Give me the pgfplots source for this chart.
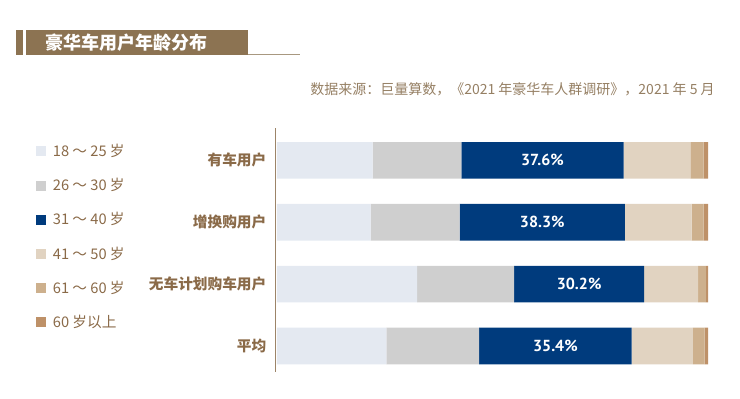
\documentclass[border=0pt]{standalone}
\usepackage{fontspec}
\setmainfont{Noto Sans CJK SC}
\newfontfamily\numfont{PT Sans}
\usepackage{pgfplots}
\pgfplotsset{compat=1.18}
\definecolor{cA}{HTML}{E4E9F1}
\definecolor{cB}{HTML}{CFCFCF}
\definecolor{cC}{HTML}{003B7D}
\definecolor{cD}{HTML}{E1D3C1}
\definecolor{cE}{HTML}{CDB08D}
\definecolor{cF}{HTML}{BE9168}
\definecolor{titlebrown}{HTML}{8C7352}
\definecolor{linebrown}{HTML}{A89880}
\definecolor{srccolor}{HTML}{957F63}
\definecolor{labelcolor}{HTML}{8A6A48}
\definecolor{axiscolor}{HTML}{9C8468}
\begin{document}
\begin{tikzpicture}[x=0.75pt,y=0.75pt]
\path[use as bounding box] (0,0) rectangle (740,399);
% title block
\fill[titlebrown] (16,369) rectangle (23,344);
\fill[titlebrown] (26,369) rectangle (248,344);
\draw[linebrown, line width=0.8pt] (248,344.6) -- (300,344.6);
\node[inner sep=0pt, anchor=west, text=white, font=\fontsize{13.5pt}{14pt}\selectfont\bfseries] at (45,356.5) {豪华车用户年龄分布};
% source
\node[inner sep=0pt, anchor=east, text=srccolor, font=\fontsize{10.5pt}{12pt}\selectfont] at (715,310) {数据来源：巨量算数，《2021 年豪华车人群调研》，2021 年 5 月};
\coordinate (axpos) at (275.9,27);
\begin{axis}[
  at={(axpos)}, anchor=south west,
  scale only axis, width=324.1pt, height=182.9pt,
  xmin=-0.25, xmax=100, ymin=-0.42, ymax=3.52,
  xbar stacked, bar width=27.45pt,
  axis x line=none, axis y line*=left,
  y axis line style={draw=axiscolor, line width=0.9pt, -},
  ytick={0,1,2,3},
  yticklabels={平均,无车计划购车用户,增换购用户,有车用户},
  major tick length=0pt,
  yticklabel style={inner sep=0pt, xshift=-7pt, text=labelcolor, font=\fontsize{11pt}{12pt}\selectfont\bfseries},
  legend style={at={(axis description cs:-0.5552,0.9348)}, anchor=north west, draw=none, fill=none,
    font=\fontsize{11pt}{12pt}\selectfont, text=labelcolor,
    row sep=14.8pt, column sep=5pt, inner sep=0pt,
    nodes={inner sep=0pt}},
  legend cell align=left,
  legend image code/.code={\fill[#1] (0pt,-3.75pt) rectangle (7.5pt,3.75pt);},
]
\addplot[fill=cA, draw=none] coordinates {(25.4,0) (32.5,1) (21.7,2) (22.2,3)};
\addplot[fill=cB, draw=none] coordinates {(21.5,0) (22.5,1) (20.7,2) (20.6,3)};
\addplot[fill=cC, draw=none] coordinates {(35.4,0) (30.2,1) (38.3,2) (37.6,3)};
\addplot[fill=cD, draw=none] coordinates {(14.2,0) (12.5,1) (15.5,2) (15.5,3)};
\addplot[fill=cE, draw=none] coordinates {(2.7,0) (1.8,1) (2.8,2) (3.1,3)};
\addplot[fill=cF, draw=none] coordinates {(0.8,0) (0.5,1) (1.0,2) (1.0,3)};
\legend{18 ～ 25 岁, 26 ～ 30 岁, 31 ～ 40 岁, 41 ～ 50 岁, 61 ～ 60 岁, 60 岁以上}
\coordinate (l1) at (axis cs:61.6,3);
\coordinate (l2) at (axis cs:61.55,2);
\coordinate (l3) at (axis cs:70.1,1);
\coordinate (l4) at (axis cs:64.6,0);
\end{axis}
\begin{scope}[every node/.style={text=white, font=\numfont\bfseries\fontsize{12pt}{13pt}\selectfont}]
\node at (l1) {37.6\%};
\node at (l2) {38.3\%};
\node at (l3) {30.2\%};
\node at (l4) {35.4\%};
\end{scope}
\end{tikzpicture}
\end{document}
